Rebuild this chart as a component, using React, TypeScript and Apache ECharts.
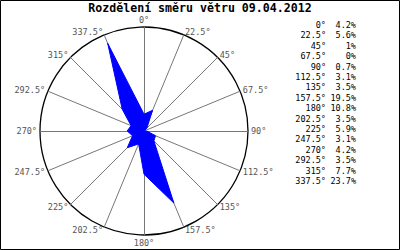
import React, { useEffect, useRef } from "react";
import * as echarts from "echarts";

const directions = ["0", "22.5", "45", "67.5", "90", "112.5", "135", "157.5", "180", "202.5", "225", "247.5", "270", "292.5", "315", "337.5"];
const shares = [4.2, 5.6, 1, 0, 0.7, 3.1, 3.5, 19.5, 10.8, 3.5, 5.9, 3.1, 4.2, 3.5, 7.7, 23.7];
const shareLabels = ["4.2%", "5.6%", "1%", "0%", "0.7%", "3.1%", "3.5%", "19.5%", "10.8%", "3.5%", "5.9%", "3.1%", "4.2%", "3.5%", "7.7%", "23.7%"];
const titleText = "Rozdělení směru větru 09.04.2012";
const radialMax = 26;

export default function App() {
  const ref = useRef<HTMLDivElement>(null);
  useEffect(() => {
    if (!ref.current) return;
    const chart = echarts.init(ref.current, null, { renderer: "svg" });
    // radar goes counterclockwise; reorder so that directions run clockwise
    const order = [0, ...Array.from({ length: directions.length - 1 }, (_, i) => directions.length - 1 - i)];
    const indicators = order.map((i) => ({ name: directions[i] + "°", max: radialMax, min: 0 }));
    const values = order.map((i) => shares[i]);
    const font = "'DejaVu Sans Mono', monospace";
    const legendRows: any[] = [];
    directions.forEach((d, i) => {
      const y = 25 + i * 10.4;
      legendRows.push({
        type: "text", x: 326, y, style: { text: d + "°", font: `8.5px ${font}`, fill: "#000", align: "right", verticalAlign: "middle" },
      });
      legendRows.push({
        type: "text", x: 356, y, style: { text: shareLabels[i], font: `8.5px ${font}`, fill: "#000", align: "right", verticalAlign: "middle" },
      });
    });
    chart.setOption({
      animation: false,
      backgroundColor: "#fff",
      title: {
        text: titleText,
        left: "center",
        top: 0,
        padding: [1, 0, 0, 0],
        textStyle: { fontFamily: font, fontSize: 11.6, fontWeight: "bold", color: "#000", lineHeight: 13 },
      },
      radar: {
        center: [144, 131],
        radius: 104,
        startAngle: 90,
        splitNumber: 1,
        shape: "circle",
        nameGap: 3,
        indicator: indicators,
        axisName: { color: "#555", fontFamily: font, fontSize: 8.5 },
        axisLine: { lineStyle: { color: "#777", width: 1 } },
        splitLine: { lineStyle: { color: "#000", width: 1.3 } },
        splitArea: { show: false },
        axisTick: { show: false },
        axisLabel: { show: false },
      },
      series: [
        {
          type: "radar",
          symbol: "none",
          data: [{ value: values }],
          lineStyle: { color: "#0000ff", width: 1 },
          areaStyle: { color: "#0000ff", opacity: 1 },
        },
      ],
      graphic: [
        {
          type: "rect",
          shape: { x: 0.5, y: 0.5, width: 399, height: 249 },
          style: { fill: "none", stroke: "#000", lineWidth: 1 },
          silent: true,
        },
        ...legendRows,
      ],
    });
    return () => chart.dispose();
  }, []);
  return <div ref={ref} style={{ position: "fixed", left: 0, top: 0, width: 400, height: 250 }} />;
}
